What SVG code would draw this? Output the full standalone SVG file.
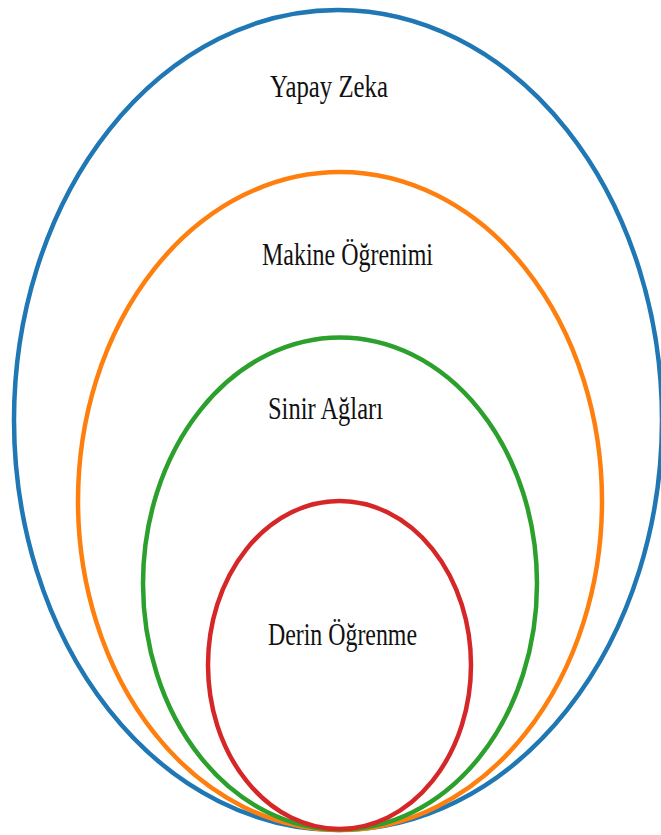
<svg xmlns="http://www.w3.org/2000/svg" width="661" height="835" viewBox="0 0 661 835">
<style>
.e{fill:none;stroke-width:4.5}
.t{font-family:"Liberation Serif","Times New Roman",serif;font-size:31px;fill:#111}
</style>
<rect width="661" height="835" fill="#fff"/>
<g id="yapay-zeka">
<ellipse class="e" stroke="#1f77b4" cx="338" cy="420" rx="324" ry="410"/>
<text class="t" x="270" y="97" textLength="118" lengthAdjust="spacingAndGlyphs">Yapay Zeka</text>
</g>
<g id="makine-ogrenimi">
<ellipse class="e" stroke="#ff7f0e" cx="340" cy="501" rx="262" ry="329"/>
<text class="t" x="262" y="265" textLength="171" lengthAdjust="spacingAndGlyphs">Makine Öğrenimi</text>
</g>
<g id="sinir-aglari">
<ellipse class="e" stroke="#2ca02c" cx="340" cy="583.5" rx="197" ry="246"/>
<text class="t" x="268" y="419" textLength="115" lengthAdjust="spacingAndGlyphs">Sinir Ağları</text>
</g>
<g id="derin-ogrenme">
<ellipse class="e" stroke="#d62728" cx="339.5" cy="665" rx="131.5" ry="164"/>
<text class="t" x="268" y="645" textLength="149" lengthAdjust="spacingAndGlyphs">Derin Öğrenme</text>
</g>
<g id="connectors"/>
</svg>
